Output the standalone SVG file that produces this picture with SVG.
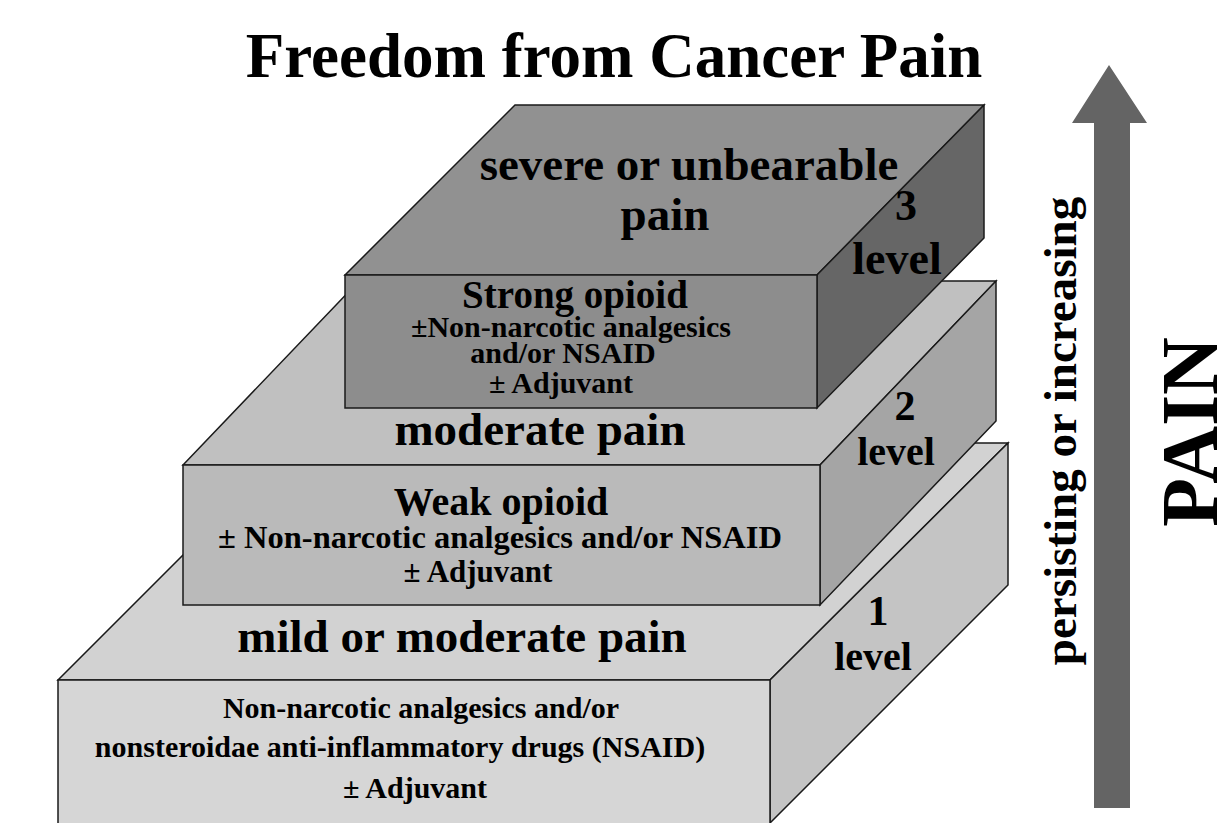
<svg xmlns="http://www.w3.org/2000/svg" width="1225" height="823" viewBox="0 0 1225 823">
<style>
text{font-family:"Liberation Serif","Times New Roman",serif;font-weight:bold;fill:#000;text-anchor:middle}
.edge{stroke:#1a1a1a;stroke-width:1.5;stroke-linejoin:miter}
</style>
<rect width="1225" height="823" fill="#fff"/>
<g id="title"><text x="614" y="77" font-size="63">Freedom from Cancer Pain</text></g>

<g id="level1">
<polygon class="edge" points="58,680 295,443 1008,443 770,680" fill="#d2d2d2"/>
<polygon class="edge" points="770,680 1008,443 1008,585 770,823" fill="#c4c4c4"/>
<rect class="edge" x="58" y="680" width="712" height="150" fill="#d6d6d6"/>
<text x="462" y="652" font-size="47">mild or moderate pain</text>
<text x="421" y="718" font-size="30">Non-narcotic analgesics and/or</text>
<text x="400" y="757" font-size="30">nonsteroidae anti-inflammatory drugs (NSAID)</text>
<text x="415" y="798" font-size="30">± Adjuvant</text>
<text x="878" y="625" font-size="42">1</text>
<text x="873" y="670" font-size="40">level</text>
</g>

<g id="level2">
<polygon class="edge" points="183,465 359,281 996,281 820,465" fill="#c0c0c0"/>
<polygon class="edge" points="820,465 996,281 996,421 820,605" fill="#a5a5a5"/>
<rect class="edge" x="183" y="465" width="637" height="140" fill="#bababa"/>
<text x="540" y="445" font-size="47">moderate pain</text>
<text x="501" y="515" font-size="40">Weak opioid</text>
<text x="500" y="548" font-size="32.5">± Non-narcotic analgesics and/or NSAID</text>
<text x="478" y="582" font-size="31">± Adjuvant</text>
<text x="905" y="420" font-size="42">2</text>
<text x="896" y="465" font-size="40">level</text>
</g>

<g id="level3">
<polygon class="edge" points="345,275 515,105 984,105 817,275" fill="#919191"/>
<polygon class="edge" points="817,275 984,105 984,238 817,408" fill="#666666"/>
<rect class="edge" x="345" y="275" width="472" height="133" fill="#8d8d8d"/>
<text x="689" y="180" font-size="47">severe or unbearable</text>
<text x="665" y="230" font-size="47">pain</text>
<text x="906" y="220" font-size="44">3</text>
<text x="897" y="274" font-size="46">level</text>
<text x="575" y="308" font-size="39">Strong opioid</text>
<text x="571" y="337" font-size="30">±Non-narcotic analgesics</text>
<text x="563" y="363" font-size="30">and/or NSAID</text>
<text x="561" y="393" font-size="30">± Adjuvant</text>
</g>

<g id="pain-arrow">
<polygon points="1109,65 1147,123 1130,123 1130,808 1094,808 1094,123 1072,123" fill="#646464"/>
<text transform="translate(1076,431) rotate(-90)" font-size="47">persisting or increasing</text>
<text transform="translate(1217,432) rotate(-90)" font-size="80">PAIN</text>
</g>
</svg>
